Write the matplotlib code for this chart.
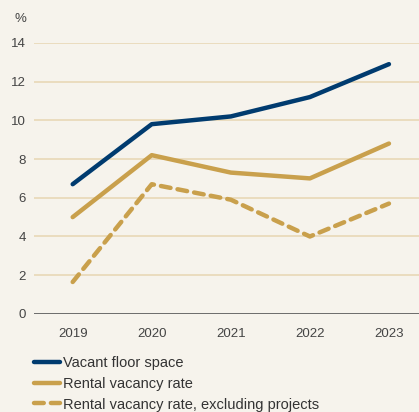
import matplotlib
matplotlib.use("Agg")
import matplotlib.pyplot as plt

years = [2019, 2020, 2021, 2022, 2023]
vacant_floor = [6.7, 9.8, 10.2, 11.2, 12.9]
rental_vacancy = [5.0, 8.2, 7.3, 7.0, 8.8]
rental_excl = [1.65, 6.7, 5.9, 4.0, 5.7]
yticks = [0, 2, 4, 6, 8, 10, 12, 14]

BG = "#f6f3ec"
NAVY = "#003b6f"
GOLD = "#c9a04c"
GRID = "#e8d8b6"
TXT = "#444444"

plt.rcParams["font.family"] = ["Liberation Sans", "DejaVu Sans"]

fig = plt.figure(figsize=(4.19, 4.12), dpi=100, facecolor=BG)
ax = fig.add_axes([0.081, 0.238, 0.919, 0.658], facecolor=BG)

for y in yticks[1:]:
    ax.axhline(y, color=GRID, lw=1.2, zorder=0)
ax.axhline(0, color="#555555", lw=1.2, zorder=1)

l1, = ax.plot(years, vacant_floor, color=NAVY, lw=3.2, solid_capstyle="round",
              label="Vacant floor space")
l2, = ax.plot(years, rental_vacancy, color=GOLD, lw=3.2, solid_capstyle="round",
              label="Rental vacancy rate")
l3, = ax.plot(years, rental_excl, color=GOLD, lw=3.2, ls=(0, (2.2, 1.6)),
              dash_capstyle="round", label="Rental vacancy rate, excluding projects")

ax.set_xlim(2018.51, 2023.38)
ax.set_ylim(0, 14)
ax.set_yticks(yticks)
ax.set_xticks(years)
ax.tick_params(length=0, labelsize=9.5, colors=TXT, pad=6)
ax.tick_params(axis="x", pad=10)
for s in ax.spines.values():
    s.set_visible(False)
fig.text(0.048, 0.955, "%", fontsize=9.5, color=TXT, ha="center", va="center")

fig.legend(handles=[l1, l2, l3], loc="upper left", bbox_to_anchor=(0.082, 0.135),
           frameon=False, fontsize=10.5, handlelength=1.75, handletextpad=0.2,
           labelspacing=0.45, borderaxespad=0, borderpad=0, labelcolor="#333333")

fig.savefig("out.png", dpi=100, facecolor=BG)
